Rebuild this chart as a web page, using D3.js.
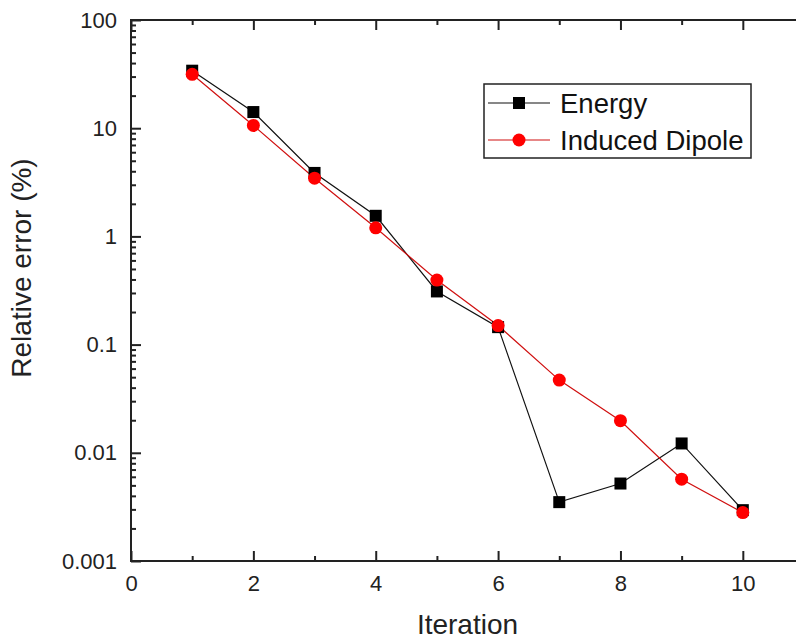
<!DOCTYPE html>
<html><head><meta charset="utf-8">
<script src="https://cdn.jsdelivr.net/npm/d3@7"></script>
<style>body{margin:0;background:#fff;} svg{display:block;font-family:"Liberation Sans",Arial,sans-serif;}</style>
</head><body>
<svg id="c" width="796" height="642"></svg>
<script>
const iterations = [1,2,3,4,5,6,7,8,9,10];
const energy = [34, 14.1, 3.86, 1.55, 0.31, 0.145, 0.0035, 0.0052, 0.0122, 0.00295];
const dipole = [31.5, 10.6, 3.45, 1.2, 0.395, 0.15, 0.047, 0.0198, 0.0057, 0.0028];
const xTickLabels = [0,2,4,6,8,10];
const yTickLabels = ["0.001","0.01","0.1","1","10","100"];
const yTickValues = [0.001,0.01,0.1,1,10,100];
const seriesNames = ["Energy","Induced Dipole"];

const svg = d3.select("#c");
const L=131, R=804, T=20, B=561;
const x = d3.scaleLinear().domain([0,11]).range([L,R]);
const y = d3.scaleLog().domain([0.001,100]).range([B,T]);
const axisCol = "#222";

const xMinor = d3.range(1,12,2);
const yMinor = [];
for (let e=-3;e<2;e++) for (let m=2;m<10;m++) yMinor.push(m*Math.pow(10,e));

const g = svg.append("g");
g.append("rect").attr("x",L).attr("y",T).attr("width",R-L).attr("height",B-T)
  .attr("fill","none").attr("stroke",axisCol).attr("stroke-width",2);

function styleTicks(sel){ sel.select(".domain").remove(); sel.selectAll(".tick line").attr("stroke",axisCol).attr("stroke-width",2); }

const gb = g.append("g").attr("transform",`translate(0,${B})`)
  .call(d3.axisBottom(x).tickValues(xTickLabels).tickSize(-10).tickPadding(14).tickFormat(d3.format("d")));
styleTicks(gb);
gb.selectAll(".tick text").attr("font-size",22).attr("fill",axisCol).attr("font-family","Liberation Sans, Arial, sans-serif").attr("dy","0.71em");
styleTicks(g.append("g").attr("transform",`translate(0,${B})`).call(d3.axisBottom(x).tickValues(xMinor).tickSize(-5).tickFormat("")));

styleTicks(g.append("g").attr("transform",`translate(0,${T})`).call(d3.axisTop(x).tickValues(xTickLabels).tickSize(-10).tickFormat("")));
styleTicks(g.append("g").attr("transform",`translate(0,${T})`).call(d3.axisTop(x).tickValues(xMinor).tickSize(-5).tickFormat("")));

const gl = g.append("g").attr("transform",`translate(${L},0)`)
  .call(d3.axisLeft(y).tickValues(yTickValues).tickSize(-10).tickPadding(14).tickFormat((d,i)=>yTickLabels[i]));
styleTicks(gl);
gl.selectAll(".tick text").attr("font-size",22).attr("fill",axisCol).attr("font-family","Liberation Sans, Arial, sans-serif");
styleTicks(g.append("g").attr("transform",`translate(${L},0)`).call(d3.axisLeft(y).tickValues(yMinor).tickSize(-5).tickFormat("")));

svg.append("text").attr("x",(L+R)/2).attr("y",634).attr("text-anchor","middle")
  .attr("font-size",28).attr("fill",axisCol).text("Iteration");
svg.append("text").attr("transform","translate(31,268) rotate(-90)").attr("text-anchor","middle")
  .attr("font-size",28).attr("fill",axisCol).text("Relative error (%)");

const line = d3.line().x((d,i)=>x(iterations[i])).y(d=>y(d));
const plot = svg.append("g");
plot.append("path").datum(energy).attr("d",line).attr("fill","none").attr("stroke","#111").attr("stroke-width",1.2);
plot.append("path").datum(dipole).attr("d",line).attr("fill","none").attr("stroke","#d01010").attr("stroke-width",1.2);
const S=12;
plot.selectAll("rect.e").data(energy).enter().append("rect").attr("class","e")
  .attr("x",(d,i)=>x(iterations[i])-S/2).attr("y",d=>y(d)-S/2).attr("width",S).attr("height",S).attr("fill","#000");
plot.selectAll("circle.d").data(dipole).enter().append("circle").attr("class","d")
  .attr("cx",(d,i)=>x(iterations[i])).attr("cy",d=>y(d)).attr("r",6.5).attr("fill","#ff0000");

const lg = svg.append("g");
lg.append("rect").attr("x",484).attr("y",84).attr("width",267).attr("height",74)
  .attr("fill","#fff").attr("stroke",axisCol).attr("stroke-width",1.5);
const rows=[103,140];
seriesNames.forEach((n,i)=>{
  const yy=rows[i];
  lg.append("line").attr("x1",488).attr("x2",550).attr("y1",yy).attr("y2",yy)
    .attr("stroke",i?"#d01010":"#111").attr("stroke-width",1.2);
  if(i===0) lg.append("rect").attr("x",519-S/2).attr("y",yy-S/2).attr("width",S).attr("height",S).attr("fill","#000");
  else lg.append("circle").attr("cx",519).attr("cy",yy).attr("r",6.5).attr("fill","#ff0000");
  lg.append("text").attr("x",560).attr("y",yy).attr("dy","0.36em").attr("font-size",27.5).attr("fill","#111").text(n);
});
</script>
</body></html>
